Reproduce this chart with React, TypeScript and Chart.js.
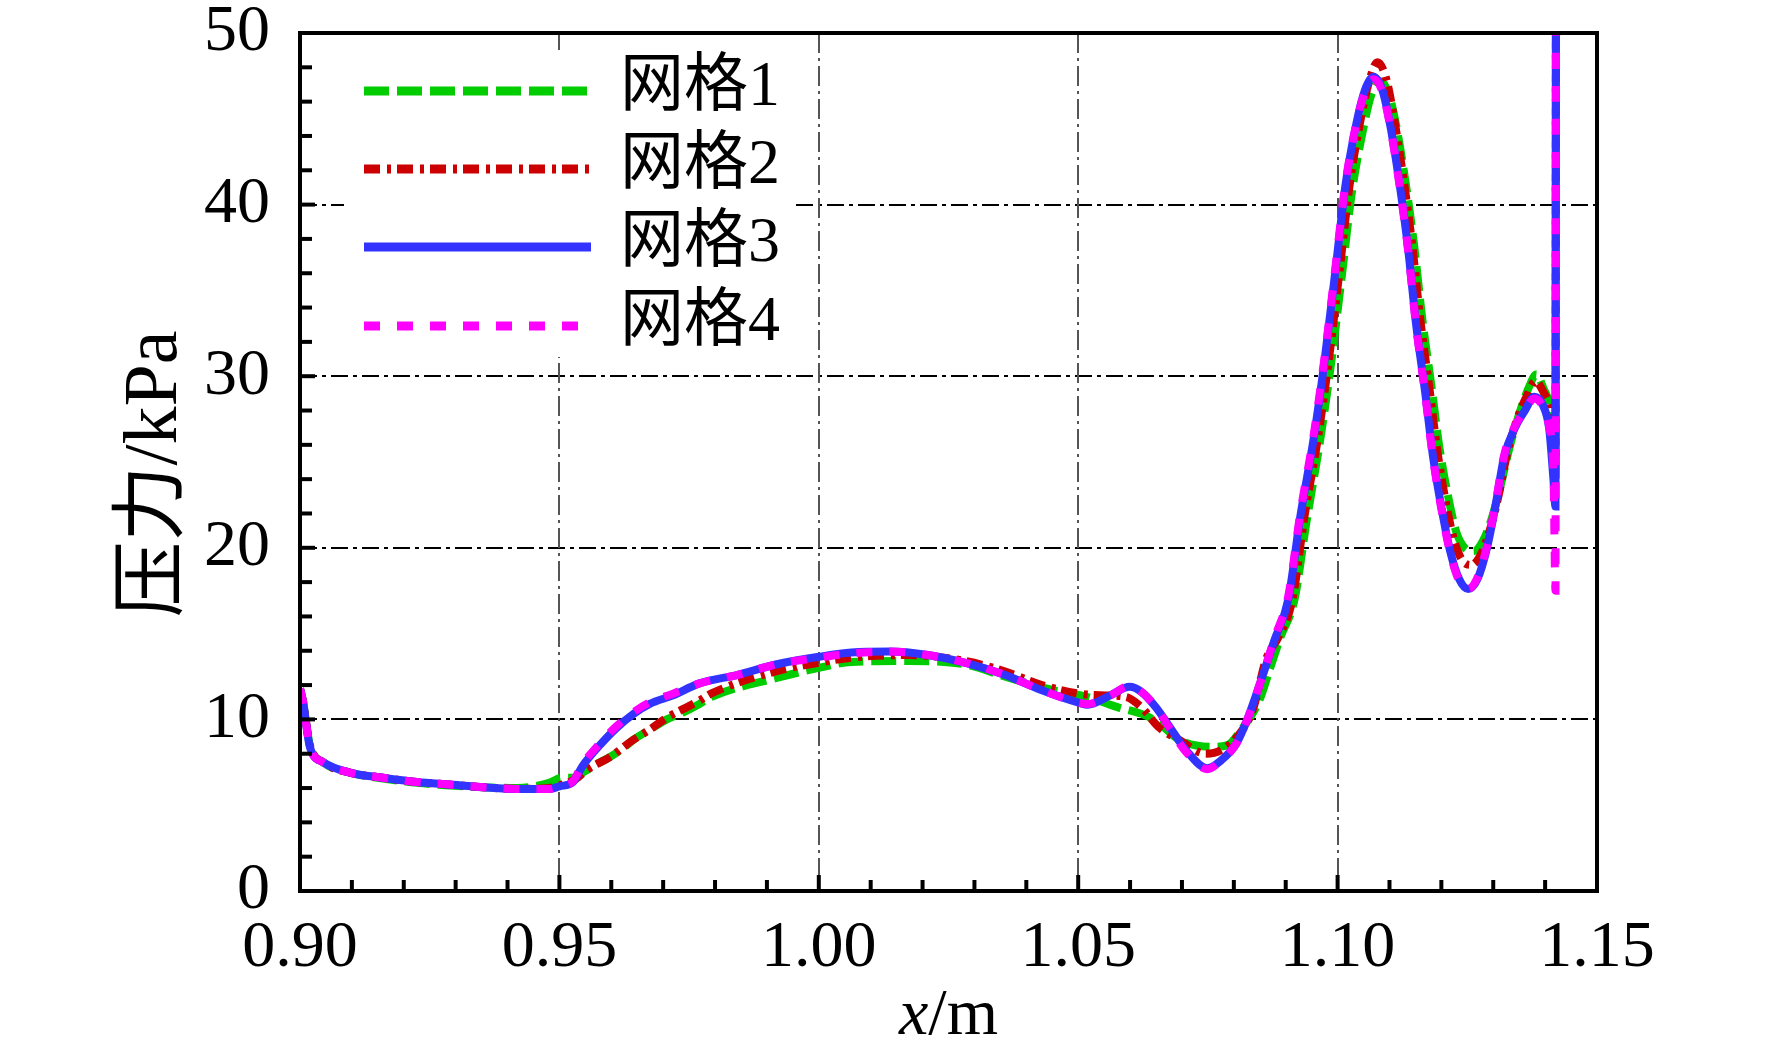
import React, { useEffect, useRef } from 'react';
import { Chart, registerables } from 'chart.js';

Chart.register(...registerables);

// 网格1
const xGrid1 = [0.900, 0.9006, 0.9019, 0.9045, 0.9096, 0.916, 0.9225, 0.9289, 0.9353, 0.9418, 0.948, 0.9505, 0.9525, 0.9545, 0.9572, 0.9597, 0.9622, 0.9642, 0.9674, 0.9707, 0.9738, 0.977, 0.9792, 0.9917, 1.000, 1.0063, 1.0173, 1.0283, 1.0358, 1.0452, 1.0518, 1.0577, 1.0628, 1.0655, 1.0695, 1.076, 1.0788, 1.0812, 1.0849, 1.087, 1.089, 1.0917, 1.094, 1.0965, 1.0986, 1.1008, 1.1027, 1.1048, 1.1065, 1.1081, 1.1098, 1.1113, 1.1131, 1.1148, 1.1163, 1.1181, 1.1196, 1.1213, 1.1229, 1.1245, 1.1262, 1.128, 1.1298, 1.1314, 1.1331, 1.135, 1.1368, 1.1383, 1.1398, 1.1408, 1.1416, 1.142, 1.1421];
const yGrid1 = [11.8, 11.0, 8.5, 7.5, 6.9, 6.55, 6.3, 6.15, 6.05, 6.0, 6.3, 6.6, 6.6, 6.9, 7.4, 7.8, 8.3, 8.8, 9.4, 10.0, 10.4, 10.9, 11.3, 12.4, 13.0, 13.35, 13.4, 13.2, 12.5, 11.7, 11.3, 10.7, 10.25, 9.8, 8.8, 8.4, 8.5, 9.3, 11.1, 13.0, 14.8, 17.0, 21.5, 26.0, 30.4, 35.8, 40.6, 44.2, 46.4, 47.2, 46.5, 44.6, 41.3, 37.5, 33.4, 29.4, 25.9, 23.0, 20.9, 20.0, 19.8, 20.4, 21.8, 23.6, 25.8, 27.8, 29.3, 30.1, 29.2, 28.4, 26.5, 24.5, 60];

// 网格2
const xGrid2 = [0.900, 0.9006, 0.9019, 0.9045, 0.9096, 0.916, 0.9225, 0.9289, 0.9353, 0.9418, 0.948, 0.9505, 0.953, 0.9555, 0.9597, 0.9642, 0.9674, 0.9707, 0.9738, 0.977, 0.9792, 0.9917, 1.000, 1.0063, 1.0173, 1.0283, 1.0358, 1.043, 1.0503, 1.0552, 1.0593, 1.0622, 1.0655, 1.0695, 1.0746, 1.0775, 1.0812, 1.0838, 1.0862, 1.0886, 1.0913, 1.0936, 1.0961, 1.0982, 1.1004, 1.1023, 1.1044, 1.1061, 1.1077, 1.1094, 1.1109, 1.1127, 1.1144, 1.1159, 1.1177, 1.1192, 1.1209, 1.1225, 1.1242, 1.1258, 1.1276, 1.1293, 1.131, 1.1327, 1.1346, 1.1364, 1.1381, 1.1398, 1.1408, 1.1416, 1.142, 1.1421];
const yGrid2 = [11.8, 11.0, 8.5, 7.5, 6.9, 6.6, 6.35, 6.2, 6.05, 5.95, 6.0, 6.2, 6.5, 7.1, 7.8, 8.8, 9.4, 10.1, 10.6, 11.1, 11.5, 12.8, 13.3, 13.6, 13.75, 13.4, 12.8, 12.0, 11.5, 11.4, 11.3, 10.7, 9.55, 8.8, 8.0, 8.2, 9.2, 10.7, 13.5, 14.8, 17.0, 21.8, 26.2, 30.7, 36.2, 41.1, 44.9, 47.2, 48.3, 47.3, 45.0, 41.5, 37.6, 33.4, 29.3, 25.7, 22.6, 20.4, 19.2, 19.0, 19.6, 21.0, 23.0, 25.5, 27.5, 28.8, 29.7, 29.0, 28.2, 26.0, 24.0, 60];

// 网格3
const xGrid3 = [0.900, 0.9006, 0.9019, 0.9045, 0.9096, 0.916, 0.9225, 0.9289, 0.9353, 0.9418, 0.9482, 0.950, 0.9526, 0.9545, 0.9578, 0.961, 0.9642, 0.9674, 0.9719, 0.977, 0.9844, 0.9917, 1.000, 1.0063, 1.0137, 1.021, 1.0283, 1.0358, 1.043, 1.0504, 1.0518, 1.0562, 1.0599, 1.0622, 1.065, 1.068, 1.0708, 1.0749, 1.0775, 1.0805, 1.0826, 1.0855, 1.0878, 1.0905, 1.0928, 1.0953, 1.0974, 1.0996, 1.1015, 1.1036, 1.1053, 1.1069, 1.1086, 1.1101, 1.1119, 1.1136, 1.1151, 1.1169, 1.1184, 1.1201, 1.1217, 1.1234, 1.1252, 1.127, 1.1288, 1.1304, 1.1321, 1.1342, 1.1361, 1.1379, 1.1396, 1.1408, 1.1416, 1.142, 1.1421];
const yGrid3 = [11.8, 11.0, 8.4, 7.5, 6.9, 6.6, 6.35, 6.2, 6.05, 5.95, 5.95, 6.1, 6.35, 7.3, 8.5, 9.5, 10.3, 10.9, 11.4, 12.1, 12.6, 13.2, 13.65, 13.9, 13.95, 13.75, 13.3, 12.6, 11.7, 10.95, 10.85, 11.4, 11.9, 11.6, 10.7, 9.4, 8.2, 7.15, 7.6, 8.6, 10.0, 12.5, 14.6, 17.0, 21.8, 26.2, 30.7, 36.2, 41.1, 44.7, 46.7, 47.45, 46.7, 44.7, 41.3, 37.4, 33.1, 29.0, 25.3, 22.2, 19.8, 18.2, 17.6, 18.2, 20.0, 22.4, 25.3, 27.0, 28.0, 28.8, 28.3, 26.9, 24.0, 22.4, 60];

// 网格4
const xGrid4 = [0.900, 0.9006, 0.9019, 0.9045, 0.9096, 0.916, 0.9225, 0.9289, 0.9353, 0.9418, 0.9482, 0.950, 0.9526, 0.9545, 0.9578, 0.961, 0.9642, 0.9674, 0.9719, 0.977, 0.9844, 0.9917, 1.000, 1.0063, 1.0137, 1.021, 1.0283, 1.0358, 1.043, 1.0504, 1.0518, 1.0562, 1.0599, 1.0622, 1.065, 1.068, 1.0708, 1.0749, 1.0775, 1.0805, 1.0826, 1.0855, 1.0878, 1.0905, 1.0928, 1.0953, 1.0974, 1.0996, 1.1015, 1.1036, 1.1053, 1.1069, 1.1086, 1.1101, 1.1119, 1.1136, 1.1151, 1.1169, 1.1184, 1.1201, 1.1217, 1.1234, 1.1252, 1.127, 1.1288, 1.1304, 1.1321, 1.1342, 1.1361, 1.1379, 1.1396, 1.1408, 1.1416, 1.142, 1.1421];
const yGrid4 = [11.8, 11.0, 8.4, 7.5, 6.9, 6.6, 6.35, 6.2, 6.05, 5.95, 5.95, 6.1, 6.4, 7.4, 8.6, 9.6, 10.4, 11.0, 11.5, 12.1, 12.6, 13.2, 13.6, 13.85, 13.95, 13.75, 13.3, 12.6, 11.7, 10.95, 10.9, 11.4, 11.95, 11.6, 10.7, 9.3, 8.1, 7.1, 7.6, 8.6, 10.0, 12.5, 14.7, 17.2, 22.0, 26.4, 30.9, 36.4, 41.2, 44.7, 46.6, 47.3, 46.6, 44.6, 41.2, 37.3, 33.0, 28.9, 25.2, 22.1, 19.7, 18.1, 17.6, 18.3, 20.1, 22.5, 25.4, 27.1, 28.0, 28.7, 28.2, 27.0, 24.5, 17.5, 60];

const seriesLabels = ['网格1', '网格2', '网格3', '网格4'];
const seriesColors = ['#00cc00', '#cc0000', '#3333ff', '#ff00ff'];
const seriesDashes = [[25, 8], [16, 7, 4, 6], [], [16, 17]];

const yTickValues = [0, 10, 20, 30, 40, 50];
const xTickValues = [0.90, 0.95, 1.00, 1.05, 1.10, 1.15];
const yGridValues = [10, 20, 30, 40];
const xGridValues = [0.95, 1.00, 1.05, 1.10];

const SERIF = '"Liberation Serif", "Times New Roman", "Noto Sans CJK SC", serif';

const framePlugin = {
  id: 'frame',
  beforeDatasetsDraw(chart: any) {
    const { ctx, chartArea: a, scales } = chart;
    const xs = scales.x, ys = scales.y;
    ctx.save();
    ctx.lineWidth = 2;
    ctx.strokeStyle = '#000';
    ctx.setLineDash([17, 5, 4, 5]);
    yGridValues.forEach((v) => {
      const py = Math.round(ys.getPixelForValue(v));
      ctx.beginPath();
      ctx.moveTo(a.left, py);
      ctx.lineTo(a.right, py);
      ctx.stroke();
    });
    ctx.strokeStyle = '#555';
    ctx.setLineDash([20, 5, 3, 5]);
    xGridValues.forEach((v) => {
      const px = Math.round(xs.getPixelForValue(v));
      ctx.beginPath();
      ctx.moveTo(px, a.top);
      ctx.lineTo(px, a.bottom);
      ctx.stroke();
    });
    ctx.restore();
  },
  afterDatasetsDraw(chart: any) {
    const { ctx, chartArea: a, scales } = chart;
    const xs = scales.x, ys = scales.y;
    ctx.save();
    // legend box
    ctx.fillStyle = '#fff';
    ctx.fillRect(344, 50, 448, 307);
    const rows = [91, 169, 247, 326];
    chart.data.datasets.forEach((ds: any, i: number) => {
      ctx.strokeStyle = ds.borderColor;
      ctx.lineWidth = 9;
      ctx.setLineDash(ds.borderDash || []);
      ctx.beginPath();
      ctx.moveTo(364, rows[i]);
      ctx.lineTo(591, rows[i]);
      ctx.stroke();
      ctx.setLineDash([]);
      ctx.fillStyle = '#000';
      ctx.font = `64px ${SERIF}`;
      ctx.textAlign = 'left';
      ctx.textBaseline = 'middle';
      ctx.fillText(ds.label, 620, rows[i] - 3);
    });
    // minor / major ticks
    ctx.setLineDash([]);
    ctx.strokeStyle = '#000';
    ctx.lineWidth = 4;
    for (let v = 0; v <= 50; v += 2) {
      const py = ys.getPixelForValue(v);
      const len = v % 10 === 0 ? 15 : 12;
      ctx.beginPath();
      ctx.moveTo(a.left, py);
      ctx.lineTo(a.left + len, py);
      ctx.stroke();
    }
    for (let k = 0; k <= 25; k++) {
      const px = xs.getPixelForValue(0.9 + k * 0.01);
      const len = k % 5 === 0 ? 16 : 11;
      ctx.beginPath();
      ctx.moveTo(px, a.bottom);
      ctx.lineTo(px, a.bottom - len);
      ctx.stroke();
    }
    // frame
    ctx.lineWidth = 4;
    ctx.strokeRect(a.left, a.top, a.right - a.left, a.bottom - a.top);
    ctx.restore();
  },
  afterDraw(chart: any) {
    const { ctx, chartArea: a } = chart;
    ctx.save();
    ctx.fillStyle = '#000';
    ctx.textBaseline = 'alphabetic';
    // x title
    ctx.font = `italic 66px ${SERIF}`;
    const w1 = ctx.measureText('x').width;
    ctx.font = `66px ${SERIF}`;
    const w2 = ctx.measureText('/m').width;
    const cx = (a.left + a.right) / 2;
    const start = cx - (w1 + w2) / 2;
    ctx.font = `italic 66px ${SERIF}`;
    ctx.textAlign = 'left';
    ctx.fillText('x', start, 1034);
    ctx.font = `66px ${SERIF}`;
    ctx.fillText('/m', start + w1, 1034);
    // y title
    ctx.translate(156, 474);
    ctx.rotate(-Math.PI / 2);
    ctx.textAlign = 'center';
    ctx.textBaseline = 'middle';
    ctx.font = `76px ${SERIF}`;
    ctx.fillText('压力/kPa', 0, 0);
    ctx.restore();
  },
};

const App = () => {
  const canvasRef = useRef<HTMLCanvasElement>(null);

  useEffect(() => {
    if (!canvasRef.current) return;
    const xsAll = [xGrid1, xGrid2, xGrid3, xGrid4];
    const ysAll = [yGrid1, yGrid2, yGrid3, yGrid4];
    const chart = new Chart(canvasRef.current, {
      type: 'line',
      data: {
        datasets: seriesLabels.map((label, i) => ({
          label,
          data: xsAll[i].map((x, j) => ({ x, y: ysAll[i][j] })),
          borderColor: seriesColors[i],
          borderDash: seriesDashes[i],
          borderWidth: 8,
          pointRadius: 0,
          fill: false,
          cubicInterpolationMode: 'monotone' as const,
          order: 4 - i,
        })),
      },
      options: {
        animation: false,
        responsive: false,
        devicePixelRatio: 1,
        layout: { padding: { left: 0, right: 175, top: 33, bottom: 0 } },
        plugins: { legend: { display: false }, tooltip: { enabled: false } },
        scales: {
          x: {
            type: 'linear',
            min: 0.9,
            max: 1.15,
            grid: { display: false },
            border: { display: false },
            afterBuildTicks: (s: any) => {
              s.ticks = xTickValues.map((v) => ({ value: v }));
            },
            afterFit: (s: any) => {
              s.height = 162;
              s.paddingLeft = 0;
              s.paddingRight = 0;
            },
            ticks: {
              callback: (v: any) => Number(v).toFixed(2),
              color: '#000',
              font: { family: SERIF, size: 66 },
              padding: 10,
              maxRotation: 0,
              autoSkip: false,
            },
          },
          y: {
            min: 0,
            max: 50,
            grid: { display: false },
            border: { display: false },
            afterBuildTicks: (s: any) => {
              s.ticks = yTickValues.map((v) => ({ value: v }));
            },
            afterFit: (s: any) => {
              s.width = 300;
              s.paddingTop = 0;
              s.paddingBottom = 0;
            },
            ticks: {
              color: '#000',
              font: { family: SERIF, size: 66 },
              padding: 22,
            },
          },
        },
      },
      plugins: [framePlugin],
    });
    return () => {
      chart.destroy();
    };
  }, []);

  return (
    <div style={{ position: 'absolute', left: 0, top: 0, width: 1772, height: 1053, background: '#fff' }}>
      <canvas ref={canvasRef} width={1772} height={1053} style={{ width: 1772, height: 1053 }} />
    </div>
  );
};

export default App;
